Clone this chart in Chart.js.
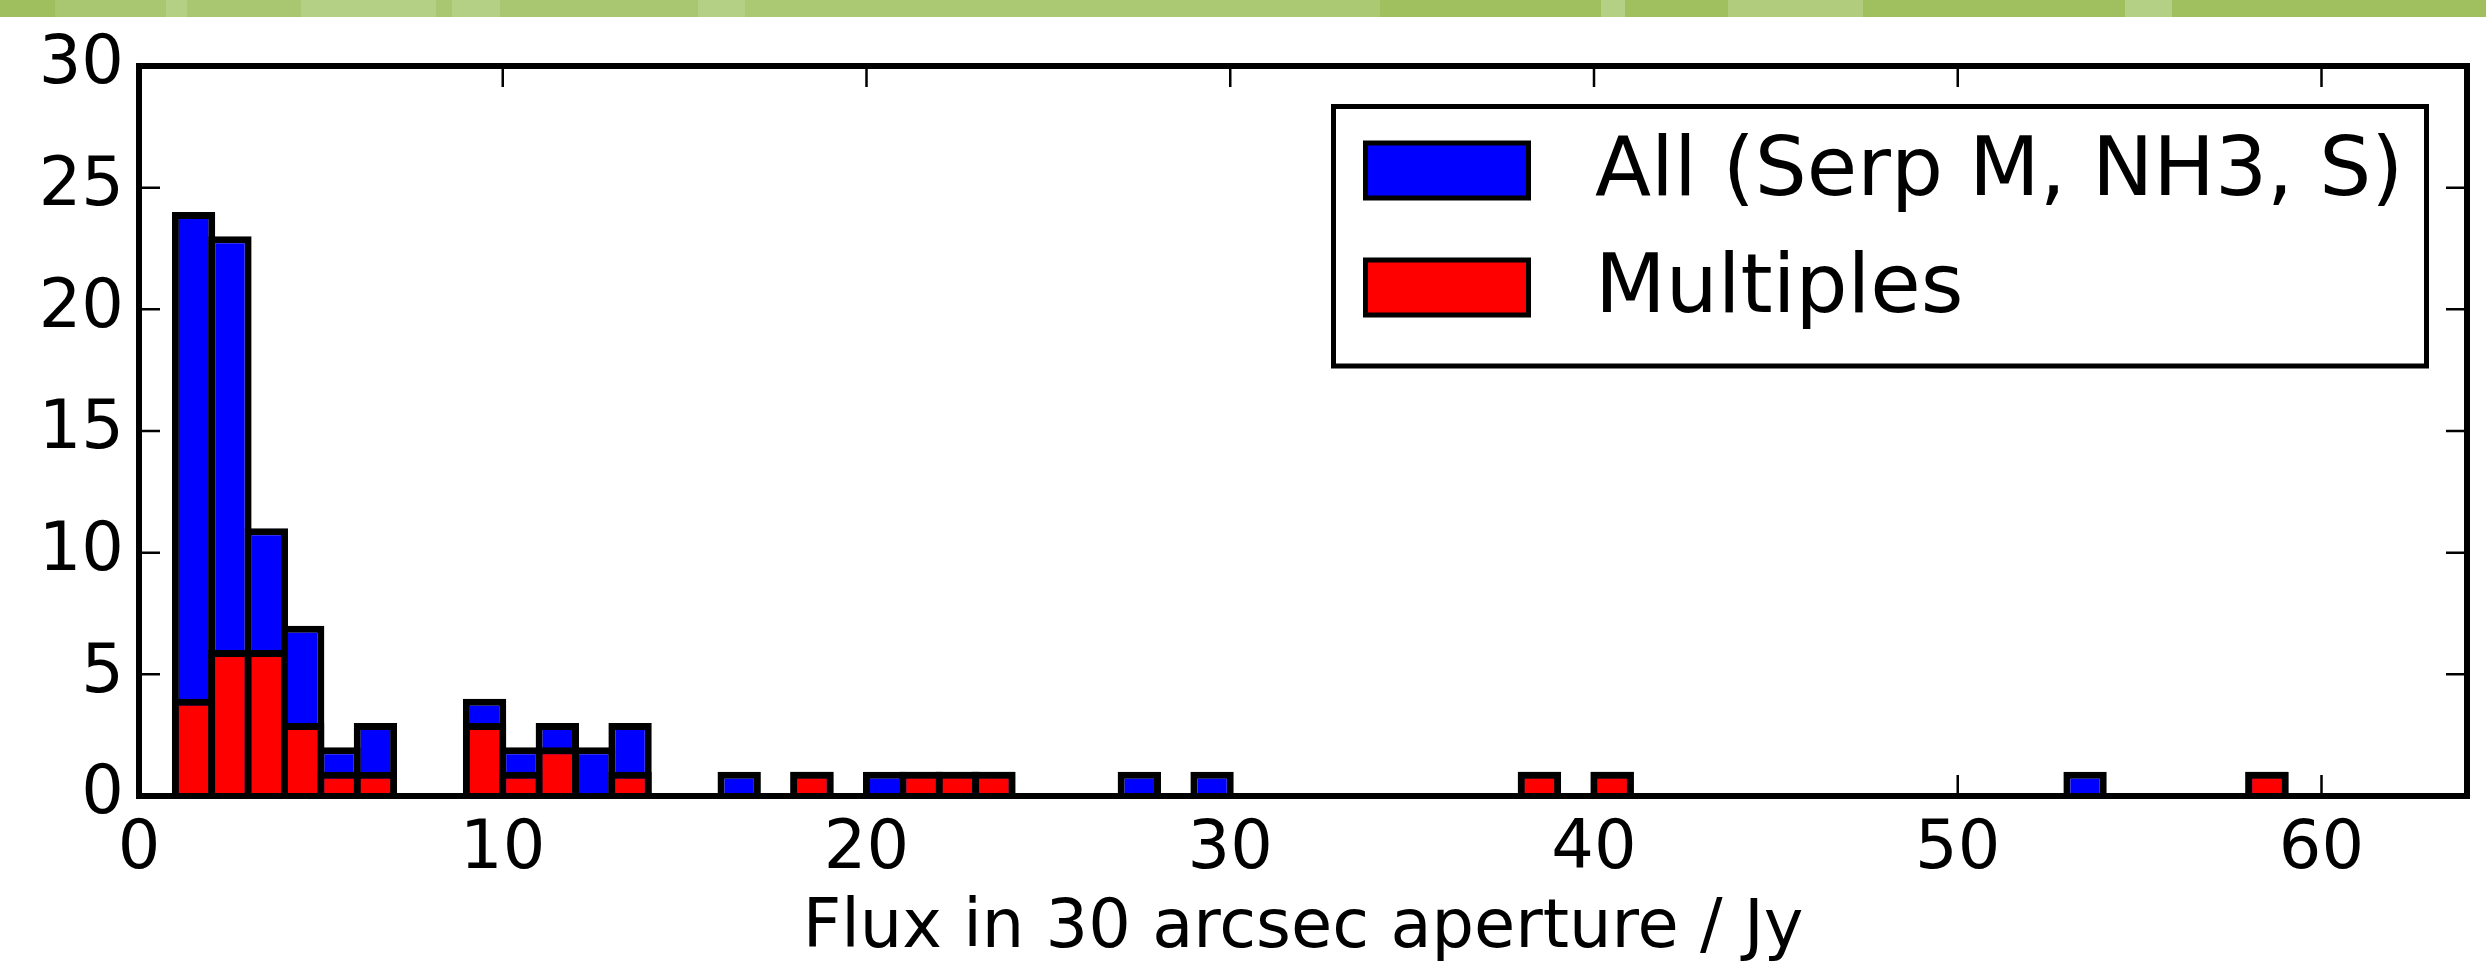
<!DOCTYPE html>
<html>
<head>
<meta charset="utf-8">
<title>Flux histogram</title>
<script src="https://cdn.jsdelivr.net/npm/chart.js@4/dist/chart.umd.min.js"></script>
<style>
    html, body { margin: 0; padding: 0; background: #ffffff; }
    #wrap { position: relative; width: 2486px; height: 965px; }
    #chart { display: block; }
    /* slide header strip above the plot */
    #banner {
        position: absolute; left: 0; top: 0; width: 2486px; height: 17px;
        background: linear-gradient(90deg,
            #9fbf5e 0px, #9fbf5e 55px, #a9c770 55px, #a9c770 166px, #b4d084 166px, #b4d084 187px,
            #a9c770 187px, #a9c770 301px, #b4d084 301px, #b4d084 436px, #a9c770 436px, #a9c770 452px,
            #b4d084 452px, #b4d084 500px, #a9c770 500px, #a9c770 698px, #b4d084 698px, #b4d084 745px,
            #abc873 745px, #abc873 1380px, #a0c060 1380px, #a0c060 1601px, #b4d084 1601px, #b4d084 1625px,
            #a0c060 1625px, #a0c060 1728px, #b0cc7c 1728px, #b0cc7c 1863px, #a0c060 1863px, #a0c060 2125px,
            #b4d084 2125px, #b4d084 2172px, #a0c060 2172px, #a0c060 2486px);
    }
</style>
</head>
<body>
<div id="wrap">
    <canvas id="chart" width="2486" height="965"></canvas>
    <div id="banner"></div>
</div>
<script>
// histogram bins of 1 Jy, from 1 to 64 Jy (bin centres)
const binCenters = [
    1.5, 2.5, 3.5, 4.5, 5.5, 6.5, 7.5, 8.5, 9.5, 10.5,
    11.5, 12.5, 13.5, 14.5, 15.5, 16.5, 17.5, 18.5, 19.5, 20.5,
    21.5, 22.5, 23.5, 24.5, 25.5, 26.5, 27.5, 28.5, 29.5, 30.5,
    31.5, 32.5, 33.5, 34.5, 35.5, 36.5, 37.5, 38.5, 39.5, 40.5,
    41.5, 42.5, 43.5, 44.5, 45.5, 46.5, 47.5, 48.5, 49.5, 50.5,
    51.5, 52.5, 53.5, 54.5, 55.5, 56.5, 57.5, 58.5, 59.5, 60.5,
    61.5, 62.5, 63.5
];

const allCounts = [
    24, 23, 11, 7, 2, 3, 0, 0, 4, 2,
    3, 2, 3, 0, 0, 1, 0, 1, 0, 1,
    1, 1, 1, 0, 0, 0, 1, 0, 1, 0,
    0, 0, 0, 0, 0, 0, 0, 1, 0, 1,
    0, 0, 0, 0, 0, 0, 0, 0, 0, 0,
    0, 0, 1, 0, 0, 0, 0, 1, 0, 0,
    0, 0, 0
];

const multipleCounts = [
    4, 6, 6, 3, 1, 1, 0, 0, 3, 1,
    2, 0, 1, 0, 0, 0, 0, 1, 0, 0,
    1, 1, 1, 0, 0, 0, 0, 0, 0, 0,
    0, 0, 0, 0, 0, 0, 0, 1, 0, 1,
    0, 0, 0, 0, 0, 0, 0, 0, 0, 0,
    0, 0, 0, 0, 0, 0, 0, 1, 0, 0,
    0, 0, 0
];

const seriesNames = ['All (Serp M, NH3, S)', 'Multiples'];
const seriesColors = ['#0000ff', '#ff0000'];
const xTickValues = [0, 10, 20, 30, 40, 50, 60];
const yTickValues = [0, 5, 10, 15, 20, 25, 30];
const xTitle = 'Flux in 30 arcsec aperture / Jy';

const toPoints = counts => binCenters.map((c, i) => ({ x: c, y: counts[i] }));

Chart.defaults.font.family = "'DejaVu Sans', sans-serif";
Chart.defaults.color = '#000000';

// inward ticks on all four sides plus the heavy axes frame
const framePlugin = {
    id: 'frame',
    afterDatasetsDraw(chart) {
        const { ctx, chartArea: a, scales: { x, y } } = chart;
        const len = 21;
        ctx.save();
        ctx.strokeStyle = '#000';
        ctx.lineWidth = 2.5;
        ctx.beginPath();
        xTickValues.forEach(v => {
            const px = x.getPixelForValue(v);
            ctx.moveTo(px, a.bottom); ctx.lineTo(px, a.bottom - len);
            ctx.moveTo(px, a.top); ctx.lineTo(px, a.top + len);
        });
        yTickValues.forEach(v => {
            const py = y.getPixelForValue(v);
            ctx.moveTo(a.left, py); ctx.lineTo(a.left + len, py);
            ctx.moveTo(a.right, py); ctx.lineTo(a.right - len, py);
        });
        ctx.stroke();
        ctx.lineWidth = 6;
        ctx.strokeRect(a.left, a.top, a.right - a.left, a.bottom - a.top);
        ctx.restore();
    }
};

// framed legend box inside the upper right of the plot
const legendBoxPlugin = {
    id: 'legendBox',
    afterDraw(chart) {
        const { ctx, chartArea: a } = chart;
        const left = a.left + 1194.5, top = a.top + 40.5;
        const right = a.right - 40.5, bottom = a.top + 300;
        ctx.save();
        ctx.fillStyle = '#fff';
        ctx.fillRect(left, top, right - left, bottom - top);
        ctx.strokeStyle = '#000';
        ctx.lineWidth = 5;
        ctx.strokeRect(left, top, right - left, bottom - top);
        const rows = [a.top + 104.5, a.top + 221.5];
        ctx.font = "82px 'DejaVu Sans'";
        ctx.textBaseline = 'middle';
        ctx.textAlign = 'left';
        seriesNames.forEach((name, i) => {
            const cy = rows[i];
            ctx.fillStyle = seriesColors[i];
            ctx.fillRect(left + 32, cy - 27.5, 163, 55);
            ctx.strokeRect(left + 32, cy - 27.5, 163, 55);
            ctx.fillStyle = '#000';
            ctx.fillText(name, left + 261.5, cy + 3);
        });
        ctx.restore();
    }
};

const barStyle = {
    borderColor: '#000000',
    borderWidth: 7,
    borderSkipped: 'start',
    barPercentage: 1.192,
    categoryPercentage: 1,
    grouped: false,
    inflateAmount: 0
};

new Chart(document.getElementById('chart'), {
    type: 'bar',
    data: {
        datasets: [
            Object.assign({ label: seriesNames[0], data: toPoints(allCounts), backgroundColor: seriesColors[0], order: 2 }, barStyle),
            Object.assign({ label: seriesNames[1], data: toPoints(multipleCounts), backgroundColor: seriesColors[1], order: 1 }, barStyle)
        ]
    },
    options: {
        responsive: false,
        animation: false,
        devicePixelRatio: 1,
        layout: { padding: { left: 0, top: 66, right: 19, bottom: 0 } },
        plugins: {
            legend: { display: false },
            tooltip: { enabled: false },
            title: { display: false }
        },
        scales: {
            x: {
                type: 'linear',
                min: 0,
                max: 64,
                offset: false,
                grid: { display: false, drawTicks: false, offset: false },
                border: { display: false },
                ticks: {
                    stepSize: 10,
                    includeBounds: false,
                    padding: 14,
                    maxRotation: 0,
                    autoSkip: false,
                    font: { size: 67 },
                    color: '#000'
                },
                afterBuildTicks: s => { s.ticks = xTickValues.map(v => ({ value: v })); },
                title: {
                    display: true,
                    text: xTitle,
                    font: { size: 67 },
                    color: '#000',
                    padding: { top: 0, bottom: -5 }
                },
                afterFit: s => { s.height = 169; }
            },
            y: {
                min: 0,
                max: 30,
                grid: { display: false, drawTicks: false },
                border: { display: false },
                ticks: {
                    stepSize: 5,
                    padding: 15,
                    font: { size: 67 },
                    color: '#000'
                },
                afterBuildTicks: s => { s.ticks = yTickValues.map(v => ({ value: v })); },
                afterFit: s => { s.width = 139; }
            }
        }
    },
    plugins: [framePlugin, legendBoxPlugin]
});
</script>
</body>
</html>
